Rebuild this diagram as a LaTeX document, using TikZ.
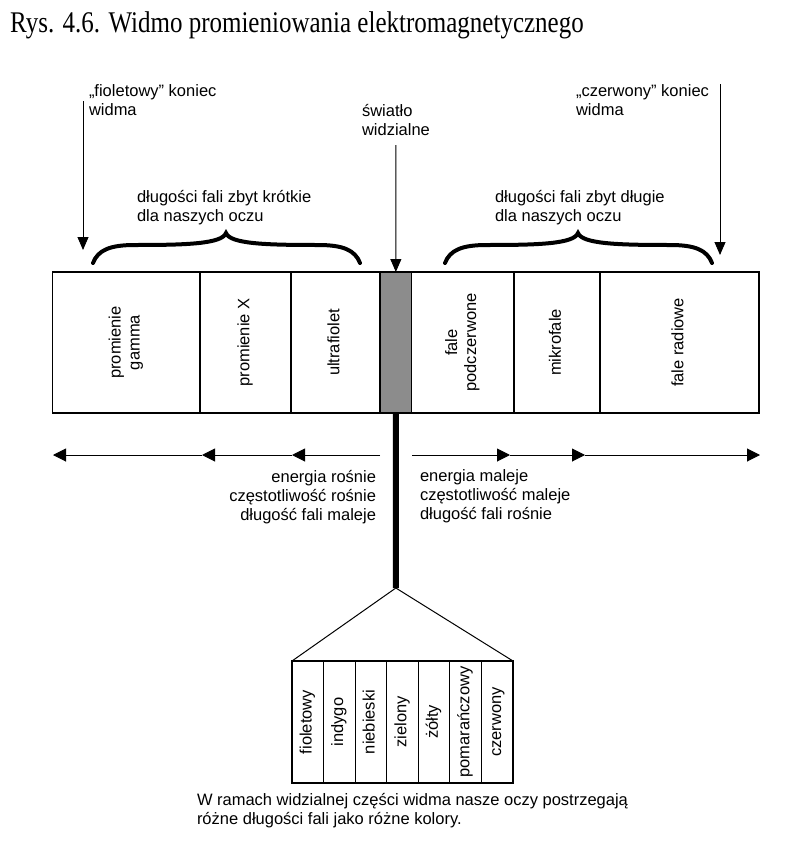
\documentclass[tikz,border=0pt]{standalone}
\usepackage{fontspec}
\setmainfont{Liberation Serif}
\setsansfont{Liberation Sans}
\usepackage{graphicx}
\usetikzlibrary{positioning, arrows.meta}

\newcommand{\vlabel}[1]{\rotatebox{90}{\begin{tabular}{@{}c@{}}#1\end{tabular}}}

\tikzset{
  txt/.style={font=\sffamily\fontsize{16.5}{19}\selectfont, inner sep=0pt, outer sep=0pt},
  band/.style={draw, line width=1.2pt, minimum height=141pt, inner sep=0pt, outer sep=0pt,
    font=\sffamily\fontsize{16.5}{19}\selectfont},
  colbox/.style={draw, line width=1.2pt, minimum width=31.57pt, minimum height=122pt,
    inner sep=0pt, outer sep=0pt, font=\sffamily\fontsize{16.5}{19}\selectfont},
  pointer/.style={-{Triangle[length=13pt,width=11pt]}, line width=0.9pt},
  flow/.style={-{Triangle[length=13pt,width=13pt]}, line width=1pt},
  curly/.style={line width=4pt, line cap=round},
}

\begin{document}
\begin{tikzpicture}[x=1pt, y=-1pt]
  \useasboundingbox (0,0) rectangle (800,843);
  % title
  \node[anchor=base west, inner sep=0pt, font=\fontsize{25}{30}\selectfont] (title) at (10,33)
    {\scalebox{1}[1.2]{Rys. 4.6. Widmo promieniowania elektromagnetycznego}};

  % spectrum bands
  \node[band, minimum width=147.3pt] (gamma) at (126.35,342.5) {\vlabel{promienie\\gamma}};
  \node[band, minimum width=91pt, right=0pt of gamma] (xray) {\vlabel{promienie X}};
  \node[band, minimum width=89pt, right=0pt of xray] (uv) {\vlabel{ultrafiolet}};
  \node[band, minimum width=31.7pt, fill=black!45, right=0pt of uv] (vis) {};
  \node[band, minimum width=102.3pt, right=0pt of vis] (ir) {\vlabel{fale\\podczerwone}};
  \node[band, minimum width=86pt, right=0pt of ir] (micro) {\vlabel{mikrofale}};
  \node[band, minimum width=159pt, right=0pt of micro] (radio) {\vlabel{fale radiowe}};

  % labels above
  \node[txt, anchor=north west, align=left] (violet) at (89,85) {„fioletowy” koniec\\widma};
  \node[txt, anchor=north west, align=left] (red) at (576,85) {„czerwony” koniec\\widma};
  \node[txt, anchor=north west, align=left] (light) at (362,104) {światło\\widzialne};
  \node[txt, anchor=north west, align=left] (short) at (137,190) {długości fali zbyt krótkie\\dla naszych oczu};
  \node[txt, anchor=north west, align=left] (long) at (495,190) {długości fali zbyt długie\\dla naszych oczu};

  \coordinate (violettop) at (83,101);
  \coordinate (violettip) at (83,250);
  \coordinate (redtop) at (720,84);
  \coordinate (redtip) at (720,255);
  \coordinate (lighttop) at (395.85,145);
  \draw[pointer] (violettop) -- (violettip);
  \draw[pointer] (redtop) -- (redtip);
  \draw[pointer] (lighttop) -- (vis.north);

  % braces
  \begin{scope}[shift={(93,263)}]
    \draw[curly] (0,0) .. controls (5,-13) and (17,-18) .. (42,-18)
      .. controls (92,-18) and (129,-19) .. (133,-30)
      .. controls (137,-19) and (174,-18) .. (225,-18)
      .. controls (250,-18) and (262,-13) .. (267,0);
  \end{scope}
  \begin{scope}[shift={(445,263)}]
    \draw[curly] (0,0) .. controls (5,-13) and (17,-18) .. (42,-18)
      .. controls (92,-18) and (129,-19) .. (133,-30)
      .. controls (137,-19) and (174,-18) .. (225,-18)
      .. controls (250,-18) and (262,-13) .. (267,0);
  \end{scope}

  % energy arrows
  \coordinate (l0) at (380,455);
  \coordinate (l1) at (292,455);
  \coordinate (l2) at (202,455);
  \coordinate (l3) at (53,455);
  \coordinate (r0) at (412,455);
  \coordinate (r1) at (510,455);
  \coordinate (r2) at (585,455);
  \coordinate (r3) at (760,455);
  \foreach \a/\b in {l0/l1, l1/l2, l2/l3, r0/r1, r1/r2, r2/r3}
    \draw[flow] (\a) -- (\b);

  \node[txt, anchor=north east, align=right] (rise) at (376,470)
    {energia rośnie\\częstotliwość rośnie\\długość fali maleje};
  \node[txt, anchor=north west, align=left] (fall) at (420,470)
    {energia maleje\\częstotliwość maleje\\długość fali rośnie};

  % visible part
  \coordinate (apex) at (395.85,588);
  \draw[line width=6pt] (vis.south) -- (apex);
  \foreach \name [count=\i] in {fioletowy, indygo, niebieski, zielony, żółty, pomarańczowy, czerwony}
    \node[colbox] (col\i) at ({292+(\i-0.5)*31.57},722) {\vlabel{\name}};
  \draw[line width=1pt] (col1.north west) -- (apex) -- (col7.north east);

  \node[txt, anchor=north west, align=left] (caption) at (197,793)
    {W ramach widzialnej części widma nasze oczy postrzegają\\różne długości fali jako różne kolory.};
\end{tikzpicture}
\end{document}
